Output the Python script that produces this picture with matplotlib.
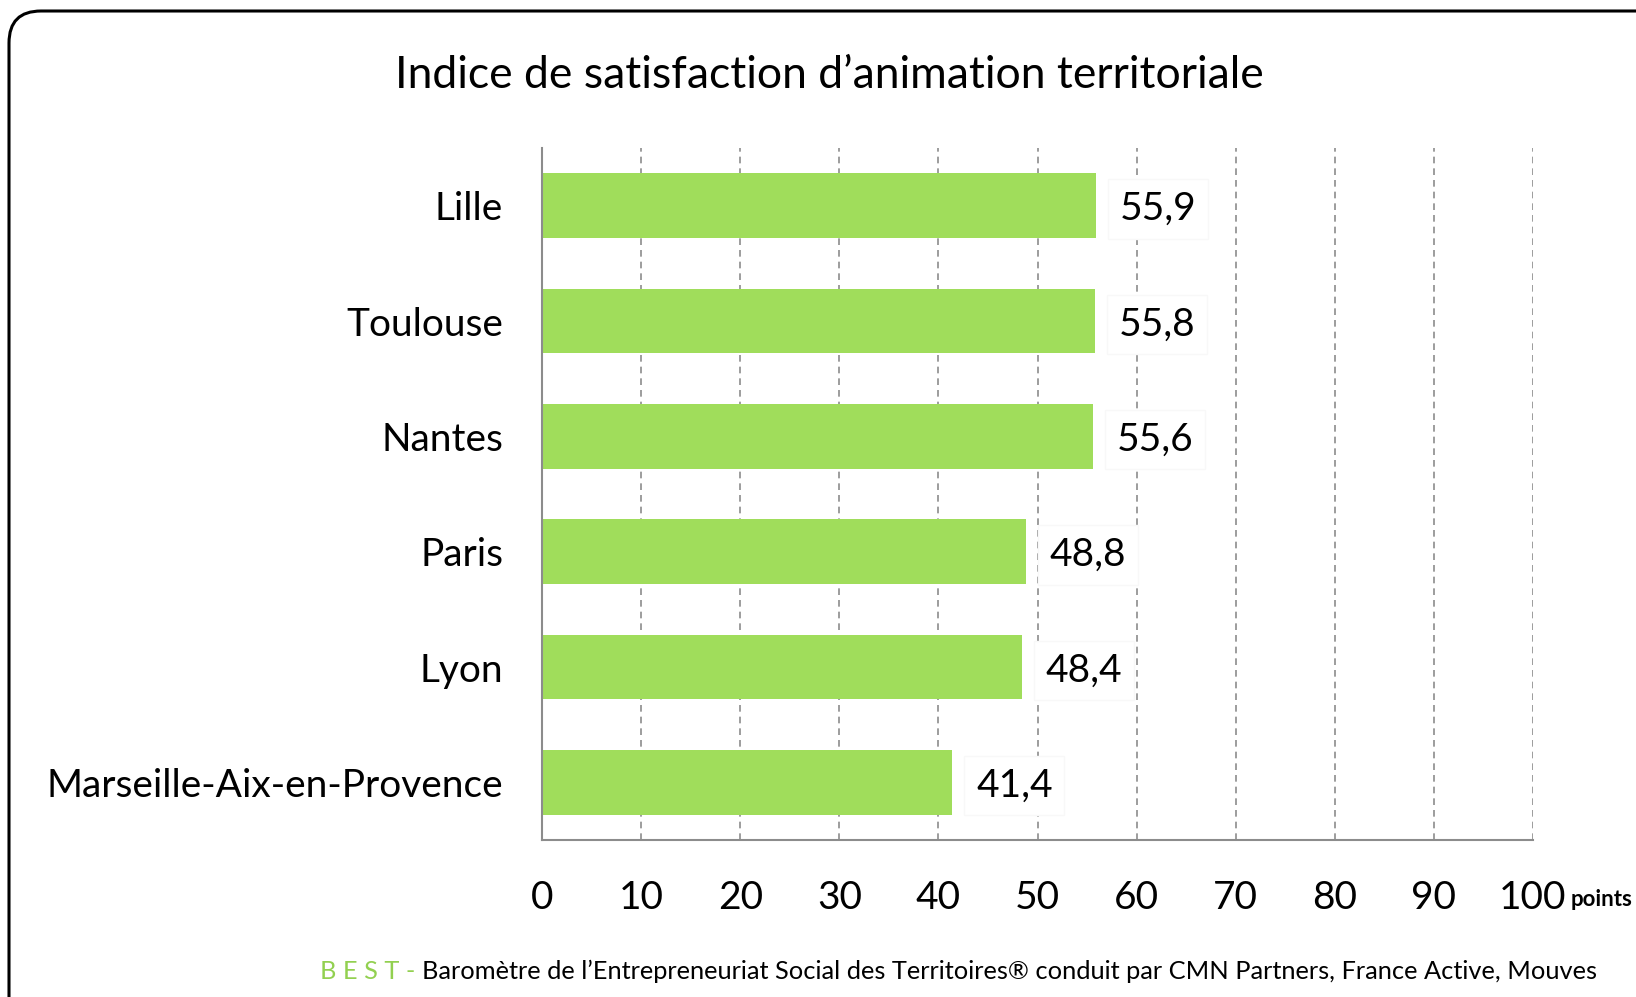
import matplotlib
matplotlib.use('Agg')
import matplotlib.pyplot as plt
from matplotlib.patches import FancyBboxPatch
from matplotlib.transforms import IdentityTransform

# Data
villes = ['Lille', 'Toulouse', 'Nantes', 'Paris', 'Lyon', 'Marseille-Aix-en-Provence']
scores = [55.9, 55.8, 55.6, 48.8, 48.4, 41.4]
ticks = [0, 10, 20, 30, 40, 50, 60, 70, 80, 90, 100]

plt.rcParams['font.family'] = ['Lato', 'DejaVu Sans']

W, H = 1636, 997
fig = plt.figure(figsize=(W / 100, H / 100), dpi=100)

# rounded frame around the whole chart
frame = FancyBboxPatch((9, -40), 1680, H - 11 + 40, boxstyle='round,pad=0,rounding_size=32',
                       transform=IdentityTransform(), facecolor='none', edgecolor='black',
                       linewidth=2.2, zorder=-10)
fig.patches.append(frame)

ax = fig.add_axes([542 / W, 1 - 840 / H, (1533 - 542) / W, (840 - 148) / H])
ax.set_facecolor('none')

ypos = list(range(len(villes)))
ax.barh(ypos, scores, height=0.56, color='#A0DD5B', zorder=2)
ax.set_ylim(len(villes) - 0.5, -0.5)
ax.set_xlim(0, 100)

ax.set_yticks(ypos)
ax.set_yticklabels(villes, fontsize=28)
ax.set_xticks(ticks)
ax.set_xticklabels([str(t) for t in ticks], fontsize=28)
ax.tick_params(axis='y', length=0, pad=28)
ax.tick_params(axis='x', length=0, pad=29)

for t in ticks[1:]:
    ax.axvline(t, color='#8C8C8C', linestyle=(0, (4, 3)), linewidth=1.2, zorder=1)

for s in ['top', 'right']:
    ax.spines[s].set_visible(False)
for s in ['left', 'bottom']:
    ax.spines[s].set_color('#8C8C8C')
    ax.spines[s].set_linewidth(1.5)

for y, v in zip(ypos, scores):
    ax.text(v + 2.4, y + 0.03, f'{v:.1f}'.replace('.', ','), fontsize=28, va='center', ha='left',
            zorder=3, bbox=dict(boxstyle='square,pad=0.3', facecolor='white', edgecolor='#F8F8F8', linewidth=1))

fig.text(829 / W, 1 - 76 / H, 'Indice de satisfaction d\u2019animation territoriale', fontsize=32,
         ha='center', va='center')
fig.text(1571 / W, 1 - 899 / H, 'points', fontsize=16, fontweight='bold', ha='left', va='center')

# source line
fig.canvas.draw()
src = fig.text(1597 / W, 1 - 971 / H,
               'Barom\u00e8tre de l\u2019Entrepreneuriat Social des Territoires\u00ae conduit par CMN Partners, France Active, Mouves',
               fontsize=18.3, ha='right', va='center')
bb = src.get_window_extent(fig.canvas.get_renderer())
fig.text(bb.x0 / W - 0.004, 1 - 971 / H, 'B E S T -', fontsize=18.3, ha='right', va='center', color='#92D050')

fig.savefig('out.png', dpi=100)
